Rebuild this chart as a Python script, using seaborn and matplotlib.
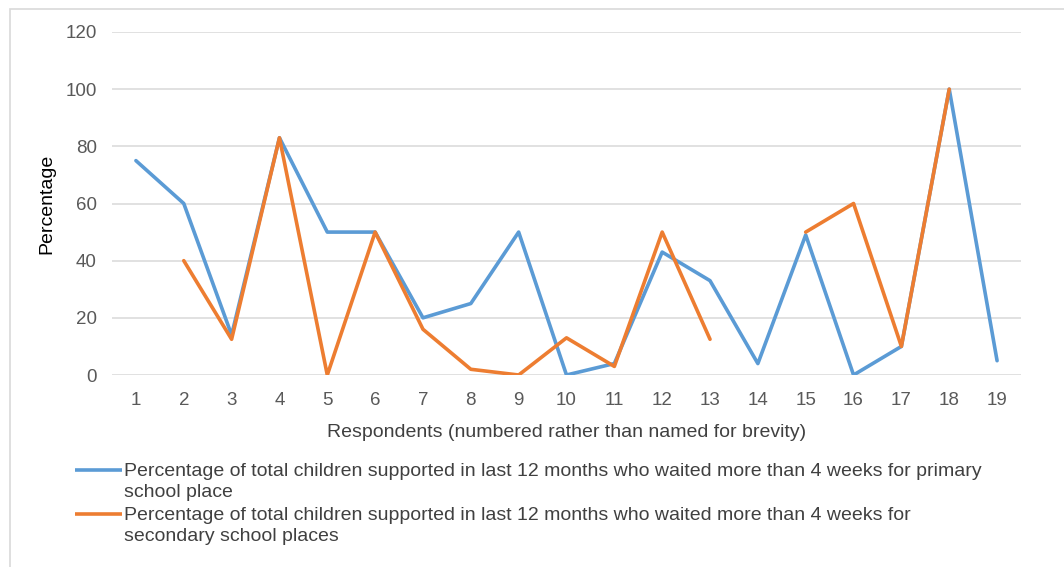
import numpy as np
import pandas as pd
import seaborn as sns
import matplotlib.pyplot as plt
from matplotlib.lines import Line2D
from matplotlib.patches import Rectangle

# Respondent numbers and percentages waiting more than 4 weeks
respondents = list(range(1, 20))
primary = [75, 60, 14, 83, 50, 50, 20, 25, 50, 0, 4, 43, 33, 4, 49, 0, 10, 100, 5]
secondary = [np.nan, 40, 12.5, 83, 0, 50, 16, 2, 0, 13, 3, 50, 12.5, np.nan, 50, 60, 10, 100, np.nan]

primary_label = ("Percentage of total children supported in last 12 months who waited more than 4 weeks for primary\n"
                 "school place")
secondary_label = ("Percentage of total children supported in last 12 months who waited more than 4 weeks for\n"
                   "secondary school places")
x_title = "Respondents (numbered rather than named for brevity)"
y_title = "Percentage"
y_ticks = [0, 20, 40, 60, 80, 100, 120]

BLUE = "#5B9BD5"
ORANGE = "#ED7D31"


def to_long(values, name):
    """Long-form rows; a new segment starts after each gap so lines break there."""
    rows = []
    seg = 0
    prev_missing = True
    for r, v in zip(respondents, values):
        if np.isnan(v):
            prev_missing = True
            continue
        if prev_missing:
            seg += 1
        prev_missing = False
        rows.append({"respondent": r, "value": v, "series": name, "segment": f"{name}-{seg}"})
    return rows


df = pd.DataFrame(to_long(np.array(primary, float), "primary") +
                  to_long(np.array(secondary, float), "secondary"))

sns.set_theme(style="white")
plt.rcParams["font.family"] = ["Liberation Sans", "DejaVu Sans"]

fig = plt.figure(figsize=(10.64, 5.67), dpi=100)
ax = fig.add_axes([112 / 1064, 192 / 567, 909 / 1064, 343 / 567])

sns.lineplot(data=df, x="respondent", y="value", hue="series", units="segment",
             estimator=None, palette={"primary": BLUE, "secondary": ORANGE},
             linewidth=2.6, legend=False, ax=ax, sort=True)

ax.set_xlim(0.5, 19.5)
ax.set_ylim(0, 120)
ax.set_xticks(respondents)
ax.set_yticks(y_ticks)
ax.set_xticklabels([str(r) for r in respondents])
ax.yaxis.grid(True, color="#D9D9D9", linewidth=1.1)
ax.xaxis.grid(False)
for s in ax.spines.values():
    s.set_visible(False)
ax.tick_params(axis="both", length=0, labelsize=13.5, labelcolor="#595959")
ax.tick_params(axis="x", pad=12)
ax.tick_params(axis="y", pad=11)
ax.set_xlabel(x_title, fontsize=14, color="#404040", labelpad=11)
ax.set_ylabel(y_title, fontsize=14, color="#000000", labelpad=7)

# Outer chart frame
fig.add_artist(Rectangle((10 / 1064, -0.1), 1.2, (567 - 9) / 567 + 0.1,
                         transform=fig.transFigure, fill=False,
                         edgecolor="#D9D9D9", linewidth=1.2))

# Legend below the plot
W, H = 1064, 567
for label, color, y in [(primary_label, BLUE, 470), (secondary_label, ORANGE, 514)]:
    fig.add_artist(Line2D([75 / W, 122 / W], [1 - y / H, 1 - y / H],
                          transform=fig.transFigure, color=color, linewidth=2.6,
                          solid_capstyle="butt"))
    fig.text(124 / W, 1 - (y - 7) / H, label, fontsize=14, color="#404040",
             va="top", ha="left", linespacing=1.28)

fig.savefig("out.png", dpi=100)
